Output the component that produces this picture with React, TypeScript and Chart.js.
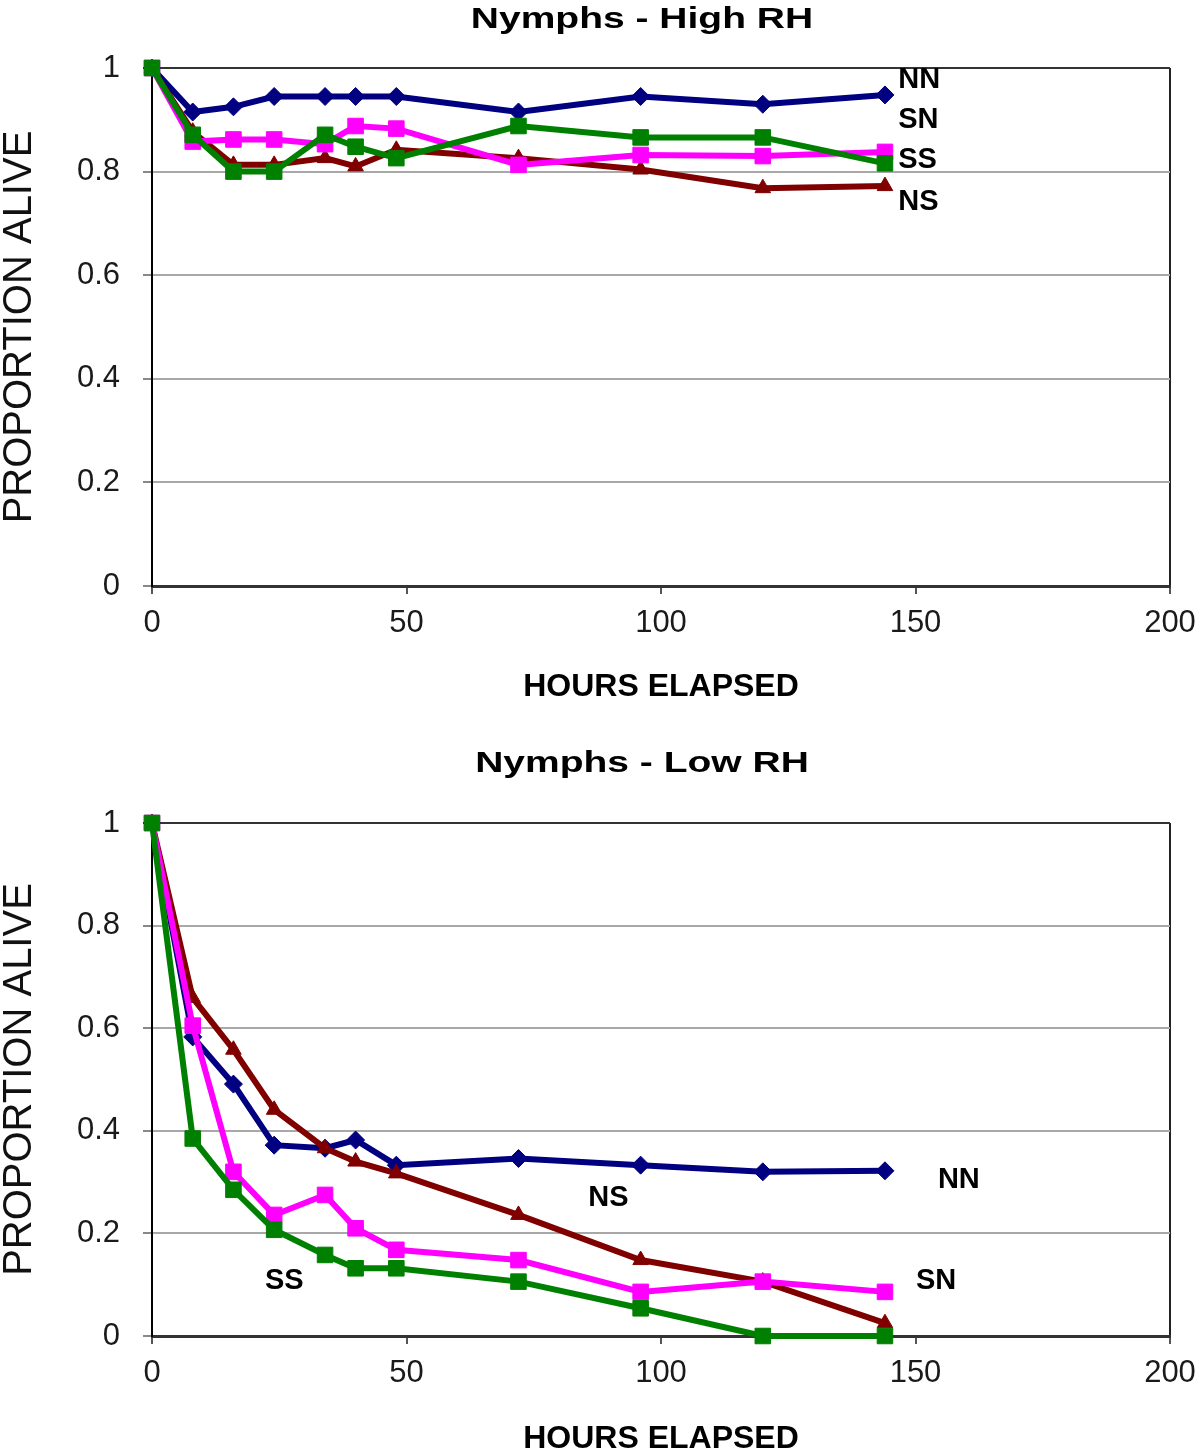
import { useEffect, useRef } from "react";
import { Chart, registerables } from "chart.js";

Chart.register(...registerables);

// ---- Data ----
const HOURS = [0, 8, 16, 24, 34, 40, 48, 72, 96, 120, 144];

const HIGH_NN = [1, 0.915, 0.925, 0.945, 0.945, 0.945, 0.945, 0.915, 0.945, 0.93, 0.948];
const HIGH_SN = [1, 0.858, 0.862, 0.862, 0.853, 0.888, 0.883, 0.813, 0.832, 0.83, 0.838];
const HIGH_SS = [1, 0.871, 0.8, 0.8, 0.871, 0.848, 0.826, 0.888, 0.866, 0.866, 0.816];
const HIGH_NS = [1, 0.877, 0.813, 0.813, 0.826, 0.81, 0.842, 0.826, 0.804, 0.768, 0.772];

const LOW_NN = [1, 0.583, 0.491, 0.372, 0.366, 0.382, 0.333, 0.346, 0.333, 0.32, 0.322];
const LOW_SN = [1, 0.605, 0.32, 0.236, 0.275, 0.21, 0.168, 0.148, 0.086, 0.106, 0.086];
const LOW_SS = [1, 0.385, 0.285, 0.207, 0.158, 0.132, 0.132, 0.106, 0.054, 0, 0];
const LOW_NS = [1, 0.659, 0.558, 0.441, 0.366, 0.34, 0.317, 0.236, 0.148, 0.106, 0.025];

const SERIES_NAMES = ["SS", "SN", "NS", "NN"];

const HIGH_LABELS = ["NN", "SN", "SS", "NS"];
const HIGH_LABEL_X = [146.6, 146.6, 146.6, 146.6];
const HIGH_LABEL_Y = [0.977, 0.9, 0.822, 0.741];

const LOW_LABELS = ["NN", "NS", "SN", "SS"];
const LOW_LABEL_X = [154.4, 85.7, 150.1, 22.2];
const LOW_LABEL_Y = [0.304, 0.269, 0.107, 0.107];

const X_MIN = 0;
const X_MAX = 200;
const X_STEP = 50;
const Y_MIN = 0;
const Y_MAX = 1;
const Y_STEP = 0.2;

const TITLE_HIGH = "Nymphs - High RH";
const TITLE_LOW = "Nymphs - Low RH";
const X_TITLE = "HOURS ELAPSED";
const Y_TITLE = "PROPORTION ALIVE";

// ---- Styles ----
const STYLE: Record<string, { color: string; point: string; radius: number }> = {
  NN: { color: "#000080", point: "rectRot", radius: 9 },
  SN: { color: "#ff00ff", point: "rect", radius: 11 },
  SS: { color: "#008000", point: "rect", radius: 11 },
  NS: { color: "#800000", point: "triangle", radius: 9 },
};

const FONT = "'Liberation Sans', Arial, sans-serif";

type PanelSpec = {
  title: string;
  series: Record<string, number[]>;
  labels: string[];
  labelX: number[];
  labelY: number[];
  titleY: number;
  plotTop: number;
  xAxisHeight: number;
  xTitlePadBottom: number;
};

function makeConfig(spec: PanelSpec): any {
  const datasets = SERIES_NAMES.map((name) => {
    const st = STYLE[name];
    return {
      label: name,
      data: HOURS.map((h, i) => ({ x: h, y: spec.series[name][i] })),
      borderColor: st.color,
      backgroundColor: st.color,
      borderWidth: 6,
      pointStyle: st.point,
      pointRadius: st.radius,
      pointBorderWidth: 1,
      pointBorderColor: st.color,
      pointBackgroundColor: st.color,
      tension: 0,
      clip: false,
    };
  });

  const overlay = {
    id: "overlay",
    afterDraw(chart: any) {
      const { ctx, scales } = chart;
      ctx.save();
      ctx.fillStyle = "#000";
      ctx.font = `bold 30px ${FONT}`;
      ctx.textAlign = "center";
      ctx.textBaseline = "middle";
      ctx.translate(642, spec.titleY);
      ctx.scale(1.3, 1);
      ctx.fillText(spec.title, 0, 0);
      ctx.restore();

      ctx.save();
      ctx.fillStyle = "#000";
      ctx.font = `bold 29px ${FONT}`;
      ctx.textAlign = "left";
      ctx.textBaseline = "middle";
      spec.labels.forEach((t, i) => {
        const px = scales.x.getPixelForValue(spec.labelX[i]);
        const py = scales.y.getPixelForValue(spec.labelY[i]);
        ctx.fillText(t, px, py);
      });
      ctx.restore();
    },
  };

  return {
    type: "line",
    data: { datasets },
    plugins: [overlay],
    options: {
      animation: false,
      responsive: true,
      maintainAspectRatio: false,
      devicePixelRatio: 1,
      layout: { padding: { top: spec.plotTop, right: 30, bottom: 0, left: 0 } },
      plugins: {
        legend: { display: false },
        title: { display: false },
        tooltip: { enabled: false },
      },
      scales: {
        x: {
          type: "linear",
          min: X_MIN,
          max: X_MAX,
          afterFit: (s: any) => {
            s.height = spec.xAxisHeight;
            s.paddingLeft = 0;
            s.paddingRight = 0;
          },
          ticks: {
            stepSize: X_STEP,
            color: "#1a1a1a",
            font: { family: FONT, size: 31 },
            padding: 11,
            maxRotation: 0,
          },
          grid: {
            color: (c: any) => (c.tick && c.tick.value === X_MAX ? "#222" : "rgba(0,0,0,0)"),
            lineWidth: 2,
            tickColor: "#555",
            tickLength: 8,
          },
          border: { color: "#333", width: 3 },
          title: {
            display: true,
            text: X_TITLE,
            color: "#000",
            font: { family: FONT, size: 32, weight: "bold", lineHeight: 1 },
            padding: { top: 0, bottom: spec.xTitlePadBottom },
          },
        },
        y: {
          type: "linear",
          min: Y_MIN,
          max: Y_MAX,
          afterFit: (s: any) => {
            s.width = 152;
          },
          ticks: {
            stepSize: Y_STEP,
            color: "#1a1a1a",
            font: { family: FONT, size: 31 },
            padding: 23,
            callback: (v: any) => String(Number(Number(v).toFixed(1))),
          },
          grid: {
            color: (c: any) =>
              c.tick && (c.tick.value === Y_MAX || c.tick.value === Y_MIN) ? "#333" : "#a8a8a8",
            lineWidth: 2,
            tickColor: "#888",
            tickLength: 9,
          },
          border: { color: "#000", width: 2 },
          title: {
            display: true,
            text: Y_TITLE,
            color: "#111",
            font: { family: FONT, size: 40, weight: "normal", lineHeight: 1 },
            padding: { top: 0, bottom: 0 },
          },
        },
      },
    },
  };
}

function Panel({ spec }: { spec: PanelSpec }) {
  const ref = useRef<HTMLCanvasElement | null>(null);
  useEffect(() => {
    if (!ref.current) return;
    const chart = new Chart(ref.current, makeConfig(spec));
    return () => chart.destroy();
  }, [spec]);
  return (
    <div style={{ position: "relative", width: 1200, height: 728 }}>
      <canvas ref={ref} />
    </div>
  );
}

const HIGH_SPEC: PanelSpec = {
  title: TITLE_HIGH,
  series: { NN: HIGH_NN, SN: HIGH_SN, SS: HIGH_SS, NS: HIGH_NS },
  labels: HIGH_LABELS,
  labelX: HIGH_LABEL_X,
  labelY: HIGH_LABEL_Y,
  titleY: 20,
  plotTop: 68,
  xAxisHeight: 142,
  xTitlePadBottom: 25,
};

const LOW_SPEC: PanelSpec = {
  title: TITLE_LOW,
  series: { NN: LOW_NN, SN: LOW_SN, SS: LOW_SS, NS: LOW_NS },
  labels: LOW_LABELS,
  labelX: LOW_LABEL_X,
  labelY: LOW_LABEL_Y,
  titleY: 36,
  plotTop: 95,
  xAxisHeight: 120,
  xTitlePadBottom: 1,
};

export default function App() {
  return (
    <div
      style={{
        position: "absolute",
        left: 0,
        top: 0,
        width: 1200,
        height: 1456,
        background: "#fff",
        overflow: "hidden",
      }}
    >
      <Panel spec={HIGH_SPEC} />
      <Panel spec={LOW_SPEC} />
    </div>
  );
}
